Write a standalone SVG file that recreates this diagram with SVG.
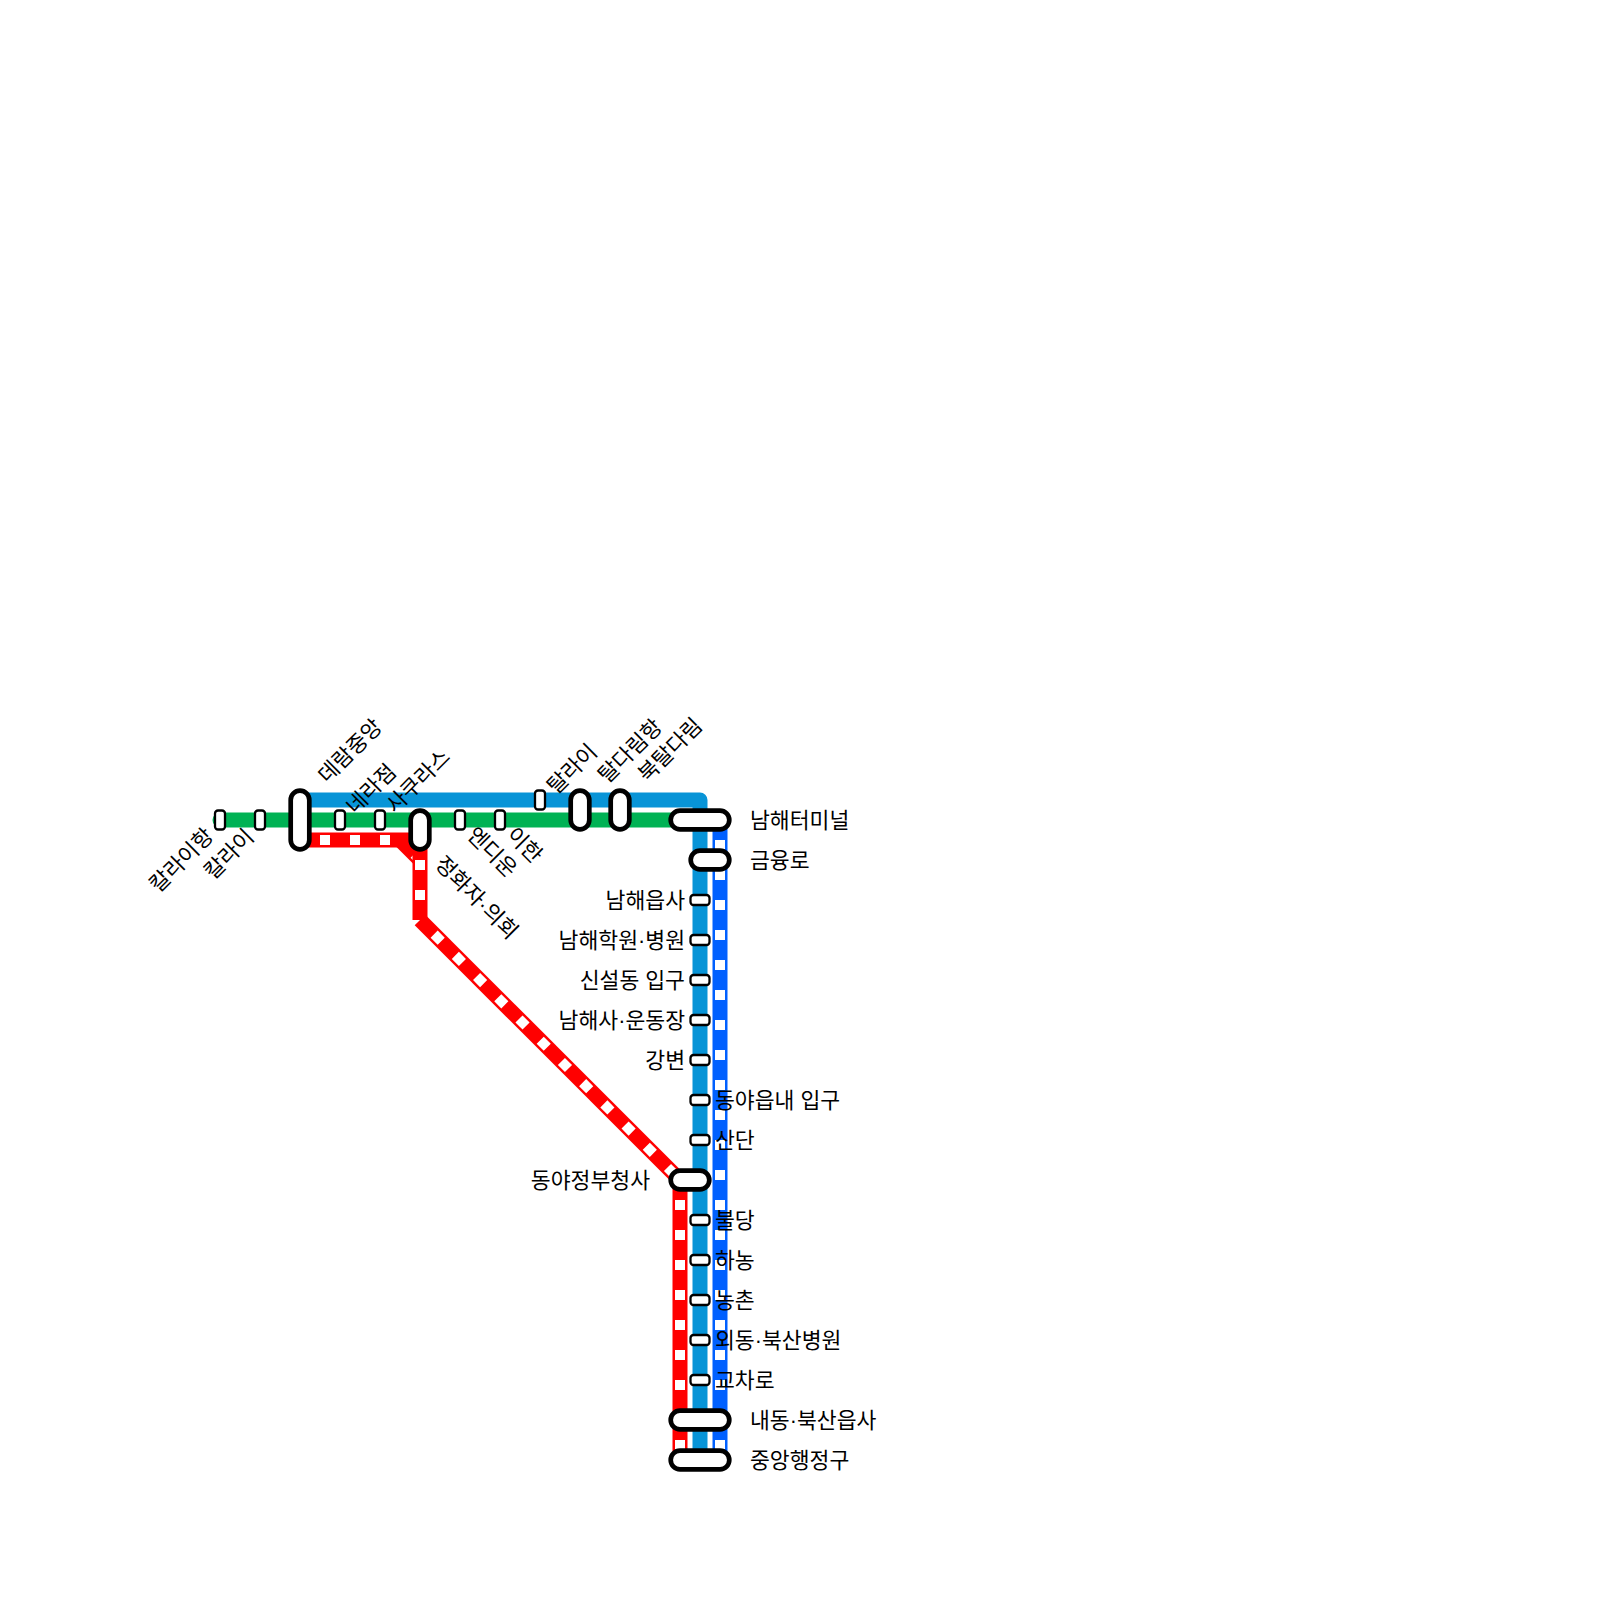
<svg xmlns="http://www.w3.org/2000/svg" width="1600" height="1600" viewBox="0 0 1600 1600">
<style>
.line{fill:none;stroke-width:15;stroke-linejoin:round}
.red{fill:none;stroke:#f00;stroke-width:15}
.dash{fill:none;stroke:#fff;stroke-width:10;stroke-dasharray:10 20;stroke-dashoffset:-20}
.big{fill:#fff;stroke:#000;stroke-width:4.7}
.small{fill:#fff;stroke:#000;stroke-width:2.3}
text{font-family:"Liberation Sans","Noto Sans CJK KR",sans-serif;font-size:21.6px;fill:#000;dominant-baseline:central}
.e{text-anchor:end}
</style>
<rect width="1600" height="1600" fill="#fff"/>
<g id="connectors">
<path class="line" d="M720 820V1460" stroke="#0060ff"/>
<path class="dash" d="M720 820V1460"/>
<path class="line" d="M300 800H700V1460" stroke="#0894d7"/>
<path class="line" d="M220 820H700" stroke="#00b254" stroke-linecap="round"/>
<path class="red" d="M400 840L420 860"/>
<path class="dash" d="M400 840L420 860"/>
<path class="red" d="M300 840H420"/>
<path class="dash" d="M300 840H400"/>
<path class="red" d="M420 840V920"/>
<path class="dash" d="M420 840V920"/>
<path class="red" d="M420 920L680 1180"/>
<path class="dash" d="M420 920L680 1180"/>
<path class="red" d="M680 1180V1460"/>
<path class="dash" d="M680 1180V1460"/>
</g>
<g id="s1"><rect class="small" x="215" y="810.5" width="10" height="19" rx="3"/><text class="e" transform="translate(209.5 832) rotate(-45)">칼라이항</text></g>
<g id="s2"><rect class="small" x="255" y="810.5" width="10" height="19" rx="3"/><text class="e" transform="translate(250 833) rotate(-45)">칼라이</text></g>
<g id="s3"><rect class="big" x="290.7" y="790.7" width="18.6" height="58.6" rx="9.3"/><text transform="translate(322 779) rotate(-45)">데람중앙</text></g>
<g id="s4"><rect class="small" x="335" y="810.5" width="10" height="19" rx="3"/><text transform="translate(350 810) rotate(-45)">네라점</text></g>
<g id="s5"><rect class="small" x="375" y="810.5" width="10" height="19" rx="3"/><text transform="translate(390 809) rotate(-45)">사쿠라스</text></g>
<g id="s6"><rect class="big" x="410.7" y="810.7" width="18.6" height="38.6" rx="9.3"/><text transform="translate(439 860) rotate(45)">정화자·의회</text></g>
<g id="s7"><rect class="small" x="455" y="810.5" width="10" height="19" rx="3"/><text transform="translate(471 831) rotate(45)">엔디운</text></g>
<g id="s8"><rect class="small" x="495" y="810.5" width="10" height="19" rx="3"/><text transform="translate(510.5 831) rotate(45)">이한</text></g>
<g id="s9"><rect class="small" x="535" y="790.5" width="10" height="19" rx="3"/><text transform="translate(551 790) rotate(-45)">탈라이</text></g>
<g id="s10"><rect class="big" x="570.7" y="790.7" width="18.6" height="38.6" rx="9.3"/><text transform="translate(602 779) rotate(-45)">탈다림항</text></g>
<g id="s11"><rect class="big" x="610.7" y="790.7" width="18.6" height="38.6" rx="9.3"/><text transform="translate(642 778) rotate(-45)">북탈다림</text></g>
<g id="s12"><rect class="big" x="670.7" y="810.7" width="58.6" height="18.6" rx="9.3"/><text x="750" y="820">남해터미널</text></g>
<g id="s13"><rect class="big" x="690.7" y="850.7" width="38.6" height="18.6" rx="9.3"/><text x="750" y="860">금융로</text></g>
<g id="s14"><rect class="small" x="690.5" y="895" width="19" height="10" rx="3"/><text class="e" x="685" y="900">남해읍사</text></g>
<g id="s15"><rect class="small" x="690.5" y="935" width="19" height="10" rx="3"/><text class="e" x="685" y="940">남해학원·병원</text></g>
<g id="s16"><rect class="small" x="690.5" y="975" width="19" height="10" rx="3"/><text class="e" x="685" y="980">신설동 입구</text></g>
<g id="s17"><rect class="small" x="690.5" y="1015" width="19" height="10" rx="3"/><text class="e" x="685" y="1020">남해사·운동장</text></g>
<g id="s18"><rect class="small" x="690.5" y="1055" width="19" height="10" rx="3"/><text class="e" x="685" y="1060">강변</text></g>
<g id="s19"><rect class="small" x="690.5" y="1095" width="19" height="10" rx="3"/><text x="715" y="1100">동야읍내 입구</text></g>
<g id="s20"><rect class="small" x="690.5" y="1135" width="19" height="10" rx="3"/><text x="715" y="1140">산단</text></g>
<g id="s21"><rect class="big" x="670.7" y="1170.7" width="38.6" height="18.6" rx="9.3"/><text class="e" x="650" y="1180">동야정부청사</text></g>
<g id="s22"><rect class="small" x="690.5" y="1215" width="19" height="10" rx="3"/><text x="715" y="1220">불당</text></g>
<g id="s23"><rect class="small" x="690.5" y="1255" width="19" height="10" rx="3"/><text x="715" y="1260">하농</text></g>
<g id="s24"><rect class="small" x="690.5" y="1295" width="19" height="10" rx="3"/><text x="715" y="1300">농촌</text></g>
<g id="s25"><rect class="small" x="690.5" y="1335" width="19" height="10" rx="3"/><text x="715" y="1340">외동·북산병원</text></g>
<g id="s26"><rect class="small" x="690.5" y="1375" width="19" height="10" rx="3"/><text x="715" y="1380">교차로</text></g>
<g id="s27"><rect class="big" x="670.7" y="1410.7" width="58.6" height="18.6" rx="9.3"/><text x="750" y="1420">내동·북산읍사</text></g>
<g id="s28"><rect class="big" x="670.7" y="1450.7" width="58.6" height="18.6" rx="9.3"/><text x="750" y="1460">중앙행정구</text></g>
</svg>
